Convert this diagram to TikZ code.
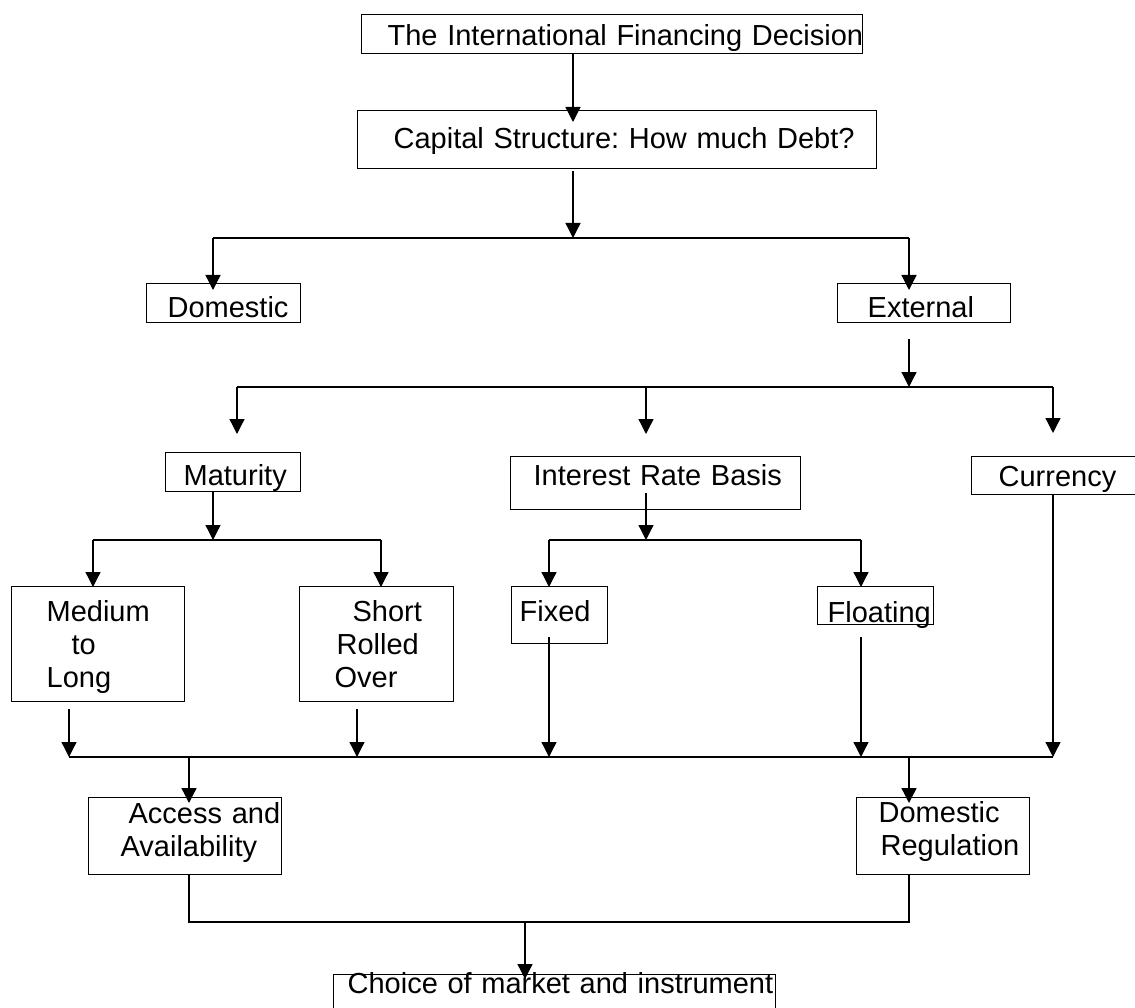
\documentclass[tikz,border=0pt]{standalone}
\usepackage{fontspec}
\setmainfont{Liberation Sans}
\usetikzlibrary{arrows.meta}

\begin{document}
\begin{tikzpicture}[x=1pt,y=-1pt,line width=1.3pt,
		box/.style={draw,anchor=north west,inner sep=0pt,align=left,font=\fontsize{29}{33}\selectfont\frenchspacing},
		arr/.style={-{Triangle[length=15pt,width=15pt]}}]
	\clip (0,0) rectangle (1135,1008);
	
	\node[box,text width=501pt,text height=31pt,text depth=8pt] (top) at (361,14) {\hspace*{26pt}\mbox{The International Financing Decision}};
	\node[box,text width=519pt,text height=38pt,text depth=20pt] (cap) at (357,110) {\hspace*{36pt}\mbox{Capital Structure: How much Debt?}};
	
	\node[box,text width=154pt,text height=34pt,text depth=5pt] (dom) at (146,283) {\hspace*{21pt}Domestic};
	\node[box,text width=173pt,text height=34pt,text depth=5pt] (ext) at (837,283) {\hspace*{30pt}External};
	
	\node[box,text width=135pt,text height=33pt,text depth=6pt] (mat) at (165,452) {\hspace*{18pt}Maturity};
	\node[box,text width=290pt,text height=29pt,text depth=24pt] (irb) at (510,456) {\hspace*{23pt}\mbox{Interest Rate Basis}};
	\node[box,text width=200pt,text height=30pt,text depth=8pt] (cur) at (971,456) {\hspace*{27pt}Currency};
	
	\node[box,text width=173pt,text height=35pt,text depth=80pt] (med) at (11,586) {\hspace*{35pt}Medium\\\hspace*{60pt}to\\\hspace*{35pt}Long};
	\node[box,text width=154pt,text height=35pt,text depth=80pt] (short) at (299,586) {\hspace*{53pt}Short\\\hspace*{37pt}Rolled\\\hspace*{35pt}Over};
	\node[box,text width=96pt,text height=35pt,text depth=22pt] (fixed) at (511,586) {\hspace*{8pt}Fixed};
	\node[box,text width=116pt,text height=36pt,text depth=2pt] (float) at (817,586) {\hspace*{10pt}Floating};
	
	\node[box,text width=193pt,text height=26pt,text depth=51pt] (acc) at (88,797) {\hspace*{40pt}\mbox{Access and}\\\hspace*{32pt}Availability};
	\node[box,text width=173pt,text height=25pt,text depth=52pt] (dreg) at (856,797) {\hspace*{22pt}Domestic\\\hspace*{24pt}Regulation};
	
	\node[box,text width=442pt,text height=19pt,text depth=60pt] (choice) at (333,974) {\hspace*{14pt}\mbox{Choice of market and instrument}};
	
	\coordinate (s1) at (573,238);
	\coordinate (s2) at (909,387);
	\coordinate (s2l) at (237,387);
	\coordinate (s2r) at (1053,387);
	\coordinate (s3) at (213,540);
	\coordinate (s3l) at (93,540);
	\coordinate (s3r) at (381,540);
	\coordinate (s4) at (646,540);
	\coordinate (s4l) at (549,540);
	\coordinate (s4r) at (861,540);
	\coordinate (b1) at (69,757);
	\coordinate (b2) at (1053,757);
	\coordinate (m1) at (357,757);
	\coordinate (a1) at (189,757);
	\coordinate (s5) at (525,922);
	
	\draw[arr,shorten >=-12pt] (top.south -| s1) -- (cap.north -| s1);
	\draw[arr,shorten <=2pt] (cap.south -| s1) -- (s1);
	\draw (s3 |- s1) -- (s2 |- s1);
	\draw[arr,shorten >=-7pt] (s3 |- s1) -- (s3 |- dom.north);
	\draw[arr,shorten >=-7pt] (s2 |- s1) -- (s2 |- ext.north);
	
	\draw[arr,shorten <=16pt] (s2 |- ext.south) -- (s2);
	\draw (s2l) -- (s2r);
	\draw[arr,shorten >=18pt] (s2l) -- (s2l |- mat.north);
	\draw[arr,shorten >=22pt] (s4 |- s2) -- (s4 |- irb.north);
	\draw[arr,shorten >=23pt] (s2r) -- (s2r |- cur.north);
	
	\draw[arr] (s3 |- mat.south) -- (s3);
	\draw (s3l) -- (s3r);
	\draw[arr,shorten >=-1pt] (s3l) -- (s3l |- med.north);
	\draw[arr,shorten >=-1pt] (s3r) -- (s3r |- short.north);
	
	\draw[arr,shorten <=-17pt] (s4 |- irb.south) -- (s4);
	\draw (s4l) -- (s4r);
	\draw[arr,shorten >=-1pt] (s4l) -- (s4l |- fixed.north);
	\draw[arr,shorten >=-1pt] (s4r) -- (s4r |- float.north);
	
	\draw (b1) -- (b2);
	\draw[arr,shorten <=7pt] (b1 |- med.south) -- (b1);
	\draw[arr,shorten <=7pt] (m1 |- short.south) -- (m1);
	\draw[arr,shorten <=-7pt] (s4l |- fixed.south) -- (s4l |- b1);
	\draw[arr,shorten <=12pt] (s4r |- float.south) -- (s4r |- b1);
	\draw[arr] (s2r |- cur.south) -- (b2);
	
	\draw[arr,shorten >=-6pt] (a1) -- (a1 |- acc.north);
	\draw[arr,shorten >=-6pt] (s2 |- b1) -- (s2 |- dreg.north);
	\draw (a1 |- acc.south) -- (a1 |- s5) -- (s2 |- s5) -- (s2 |- dreg.south);
	\draw[arr,shorten >=-5pt] (s5) -- (s5 |- choice.north);
	
\end{tikzpicture}
\end{document}
